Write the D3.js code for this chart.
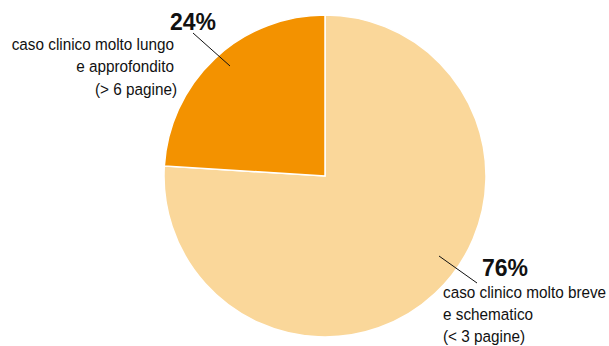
<!DOCTYPE html>
<html>
<head>
<meta charset="utf-8">
<script src="https://cdn.jsdelivr.net/npm/d3@7"></script>
<style>
  html, body { margin: 0; padding: 0; background: #fff; }
  svg { display: block; }
  .pct { font-family: "Liberation Sans", Arial, sans-serif; font-weight: bold; font-size: 23px; fill: #111; }
  .desc { font-family: "Liberation Sans", Arial, sans-serif; font-size: 17px; fill: #111; }
</style>
</head>
<body>
<svg id="chart" width="609" height="346"></svg>
<script>
// Share of respondents by preferred case-report format
const categories = ["breve", "lungo"];
const values = [76, 24];
const colors = ["#FAD79A", "#F39200"];
const pctLabels = ["76%", "24%"];
const descLines = [
  ["caso clinico molto breve", "e schematico", "(< 3 pagine)"],
  ["caso clinico molto lungo", "e approfondito", "(> 6 pagine)"]
];

const svg = d3.select("#chart");
const cx = 325, cy = 176, r = 161;

const pie = d3.pie().sort(null).value(d => d)(values);
const arc = d3.arc().innerRadius(0).outerRadius(r);

const g = svg.append("g").attr("transform", `translate(${cx},${cy})`);

g.selectAll("path")
  .data(pie)
  .join("path")
  .attr("d", arc)
  .attr("fill", (d, i) => colors[i])
  .attr("stroke", "#fff")
  .attr("stroke-width", 1.5);

// Label placement: leader line, percentage and condensed description lines
const labelSpec = [
  { start: [439, 256], end: [477, 283], pctX: 482, pctY: 276, pctAnchor: "start", anchor: "start", textX: 443, lineY: [298, 320, 342] },
  { start: [230, 66], end: [193, 33], pctX: 193, pctY: 30, pctAnchor: "middle", anchor: "end", textX: 174, lineY: [50, 72, 95] }
];
const condense = 0.9;

pie.forEach((d, i) => {
  const s = labelSpec[i];
  svg.append("line")
    .attr("x1", s.start[0]).attr("y1", s.start[1])
    .attr("x2", s.end[0]).attr("y2", s.end[1])
    .attr("stroke", "#111").attr("stroke-width", 1);

  svg.append("text")
    .attr("class", "pct")
    .attr("x", s.pctX).attr("y", s.pctY)
    .attr("text-anchor", s.pctAnchor)
    .text(pctLabels[i]);

  descLines[i].forEach((line, j) => {
    const x = s.textX + (i === 1 && j === 2 ? 3 : 0);
    svg.append("text")
      .attr("class", "desc")
      .attr("transform", `translate(${x},${s.lineY[j]}) scale(${condense},1)`)
      .attr("text-anchor", s.anchor)
      .text(line);
  });
});
</script>
</body>
</html>
